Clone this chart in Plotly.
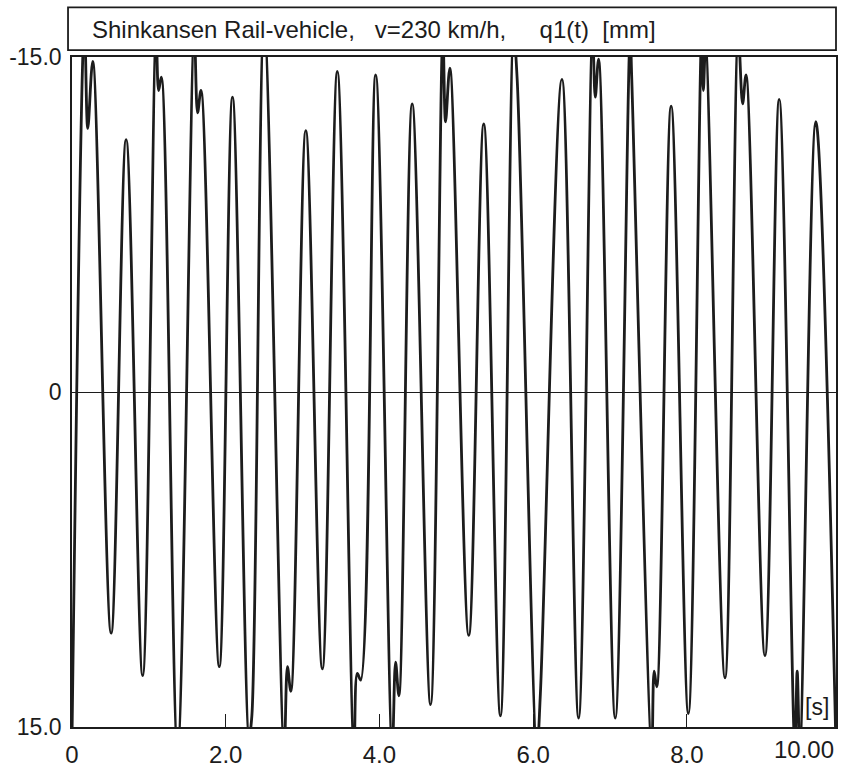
import plotly.graph_objects as go

# Extrema of q1(t) (t in s, q1 in mm); values beyond +/-15 are clipped peaks
t_pts = [0.000, 0.162, 0.205, 0.270, 0.509, 0.704, 0.919, 1.094, 1.127, 1.162,
         1.374, 1.591, 1.634, 1.678, 1.916, 2.088, 2.305, 2.340, 2.500, 2.760,
         2.803, 2.847, 3.042, 3.257, 3.452, 3.669, 3.712, 3.756, 3.951, 4.166,
         4.210, 4.253, 4.426, 4.665, 4.825, 4.860, 4.916, 5.162, 5.357, 5.574,
         5.747, 5.792, 6.049, 6.094, 6.374, 6.591, 6.773, 6.808, 6.851, 7.068,
         7.262, 7.283, 7.543, 7.574, 7.608, 7.795, 8.019, 8.192, 8.214, 8.244,
         8.496, 8.669, 8.725, 8.769, 9.016, 9.201, 9.405, 9.435, 9.470, 9.678,
         9.940]
q1_pts = [15.5, -16.5, -11.8, -14.8, 10.8, -11.3, 12.7, -16.0, -13.5, -14.1,
          16.0, -16.0, -12.5, -13.5, 12.3, -13.2, 15.4, 14.5, -16.5, 16.0,
          12.3, 13.4, -11.7, 12.4, -14.35, 16.0, 12.6, 12.9, -14.2, 16.0,
          12.1, 13.6, -12.9, 14.0, -16.0, -12.1, -14.5, 10.9, -12.0, 14.5,
          -16.0, -14.0, 16.0, 13.5, -14.0, 14.6, -16.0, -13.2, -14.9, 14.6,
          -16.0, -14.0, 16.0, 12.5, 13.2, -12.8, 14.4, -16.0, -13.5, -15.5,
          12.8, -16.0, -12.9, -14.2, 11.8, -13.1, 16.0, 12.5, 16.0, -12.1,
          16.0]

x_tickvals = [0, 2, 4, 6, 8]
x_ticktext = ["0", "2.0", "4.0", "6.0", "8.0"]
x_last_label = "10.00"
y_tickvals = [-15, 0, 15]
y_ticktext = ["-15.0", "0", "15.0"]
title_text = ("Shinkansen Rail-vehicle,\u00a0\u00a0\u00a0v=230 km/h,"
              "\u00a0\u00a0\u00a0\u00a0\u00a0q1(t)\u00a0\u00a0[mm]")
x_unit = "[s]"

ink = "#1c1c1c"
font_family = "Liberation Sans, Arial, sans-serif"

fig = go.Figure()
fig.add_trace(go.Scatter(
    x=t_pts, y=q1_pts, mode="lines",
    line=dict(color=ink, width=2.8, shape="spline", smoothing=1.0),
    hoverinfo="skip", showlegend=False))

fig.update_layout(
    width=841, height=771,
    margin=dict(l=72, r=3, t=57, b=38),
    paper_bgcolor="white", plot_bgcolor="white",
    font=dict(family=font_family, color=ink),
    showlegend=False,
)
fig.update_xaxes(
    range=[0, 9.94], showgrid=False, zeroline=False,
    showline=True, mirror=True, linecolor=ink, linewidth=1.8,
    tickmode="array", tickvals=x_tickvals, ticktext=x_ticktext,
    ticks="inside", ticklen=13, tickwidth=1, tickcolor=ink,
    tickfont=dict(size=24, color=ink), ticklabelstandoff=5,
)
fig.update_yaxes(
    range=[15, -15], showgrid=False,
    zeroline=True, zerolinecolor=ink, zerolinewidth=1,
    showline=True, mirror=True, linecolor=ink, linewidth=1.8,
    tickmode="array", tickvals=y_tickvals, ticktext=y_ticktext,
    ticks="", tickfont=dict(size=23, color=ink), ticklabelstandoff=4,
)

# title box above the plot (page y 7..50)
fig.add_shape(type="rect", xref="paper", yref="paper",
              x0=-0.0052, x1=1.0, y0=1.0104, y1=1.074,
              line=dict(color=ink, width=1.8), fillcolor="white")
fig.add_annotation(xref="paper", yref="paper", x=0.0235, y=1.0407,
                   xanchor="left", yanchor="middle", showarrow=False,
                   text=title_text, font=dict(size=24, color=ink))
fig.add_annotation(xref="paper", yref="paper", x=1.0, y=-0.034,
                   xanchor="right", yanchor="middle", showarrow=False,
                   text=x_last_label, font=dict(size=24, color=ink))
fig.add_annotation(xref="paper", yref="paper", x=0.9935, y=0.03,
                   xanchor="right", yanchor="middle", showarrow=False,
                   text=x_unit, font=dict(size=23, color=ink))

fig.write_html(
    "out.html",
    config={"displayModeBar": False, "staticPlot": True},
    post_script="document.body.style.margin='0';document.body.style.overflow='hidden';",
)
